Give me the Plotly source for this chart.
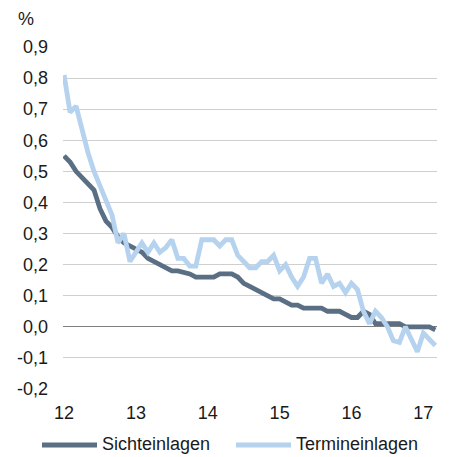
import plotly.graph_objects as go

months = [12 + i / 12 for i in range(63)]

sicht = [0.55, 0.53, 0.50, 0.48, 0.46, 0.44, 0.38, 0.34, 0.32, 0.29,
         0.27, 0.26, 0.25, 0.24, 0.22, 0.21, 0.20, 0.19, 0.18, 0.18,
         0.175, 0.17, 0.16, 0.16, 0.16, 0.16, 0.17, 0.17, 0.17, 0.16,
         0.14, 0.13, 0.12, 0.11, 0.10, 0.09, 0.09, 0.08, 0.07, 0.07,
         0.06, 0.06, 0.06, 0.06, 0.05, 0.05, 0.05, 0.04, 0.03, 0.03,
         0.05, 0.04, 0.01, 0.01, 0.01, 0.01, 0.01, 0.00, 0.00, 0.00,
         0.00, 0.00, -0.01]

termin = [0.81, 0.69, 0.71, 0.63, 0.56, 0.50, 0.45, 0.40, 0.36, 0.27,
          0.30, 0.21, 0.24, 0.27, 0.24, 0.27, 0.24, 0.255, 0.28, 0.22,
          0.22, 0.195, 0.195, 0.28, 0.28, 0.28, 0.26, 0.28, 0.28, 0.23,
          0.21, 0.19, 0.19, 0.21, 0.21, 0.23, 0.18, 0.20, 0.16, 0.13,
          0.16, 0.22, 0.22, 0.14, 0.17, 0.13, 0.14, 0.11, 0.14, 0.12,
          0.05, 0.01, 0.05, 0.03, 0.00, -0.045, -0.05, 0.00, -0.04, -0.08,
          -0.02, -0.04, -0.06]

series_names = ["Sichteinlagen", "Termineinlagen"]
colors = ["#5b6f84", "#b5d2ee"]

x_tickvals = [12, 13, 14, 15, 16, 17]
x_ticktext = ["12", "13", "14", "15", "16", "17"]
y_tickvals = [-0.2, -0.1, 0.0, 0.1, 0.2, 0.3, 0.4, 0.5, 0.6, 0.7, 0.8, 0.9]
y_ticktext = [f"{v:.1f}".replace(".", ",") for v in y_tickvals]

FONT = "Liberation Sans, Arial, sans-serif"

fig = go.Figure()
for name, vals, col in zip(series_names, [sicht, termin], colors):
    fig.add_trace(go.Scatter(x=months, y=vals, mode="lines", name=name,
                             line=dict(color=col, width=4.8),
                             showlegend=False))

fig.update_layout(
    width=449, height=457,
    margin=dict(l=63, r=12, t=47, b=68),
    paper_bgcolor="white", plot_bgcolor="white",
    font=dict(family=FONT, size=18, color="#1a1a1a"),
    xaxis=dict(range=[11.985, 17.19], tickvals=x_tickvals, ticktext=x_ticktext,
               showgrid=False, zeroline=False, showline=False, ticks="",
               ticklabelstandoff=11, tickfont=dict(size=18)),
    yaxis=dict(range=[-0.2, 0.9], tickvals=y_tickvals, ticktext=y_ticktext,
               showgrid=True, gridcolor="#cfcfcf", gridwidth=1,
               zeroline=True, zerolinecolor="#7f7f7f", zerolinewidth=1,
               showline=False, ticks="", ticklabelstandoff=14,
               tickfont=dict(size=18)),
)

fig.add_annotation(xref="paper", yref="paper", x=(26 - 63) / 374, y=(389 - 19) / 342,
                   xanchor="center", yanchor="middle", showarrow=False,
                   text="%", font=dict(size=18, family=FONT, color="#1a1a1a"))

# custom legend
leg_items = [(42, 97, 100), (236, 291, 294)]
for (x0, x1, tx), name, col in zip(leg_items, series_names, colors):
    fig.add_shape(type="line", xref="paper", yref="paper",
                  x0=(x0 - 63) / 374, x1=(x1 - 63) / 374,
                  y0=-(445 - 389) / 342, y1=-(445 - 389) / 342,
                  line=dict(color=col, width=5))
    fig.add_annotation(xref="paper", yref="paper", x=(tx - 63) / 374,
                       y=-(444 - 389) / 342, xanchor="left", yanchor="middle",
                       showarrow=False, text=name,
                       font=dict(size=18, family=FONT, color="#1a1a1a"))

fig.write_html("out.html", config={"displayModeBar": False},
               post_script="document.body.style.margin='0';")
